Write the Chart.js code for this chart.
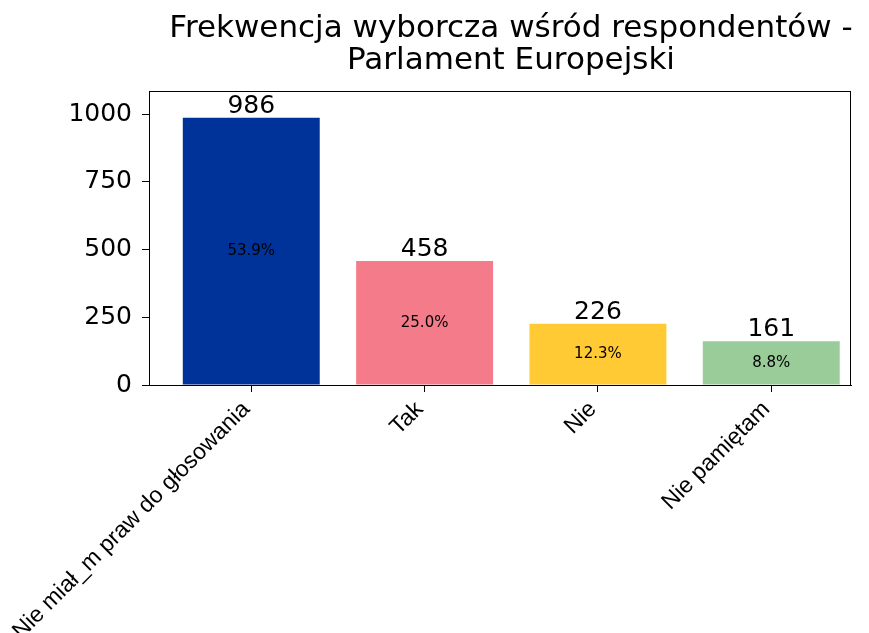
<!DOCTYPE html>
<html>
<head>
<meta charset="utf-8">
<script src="https://cdn.jsdelivr.net/npm/chart.js@4.4.0/dist/chart.umd.min.js"></script>
<style>
  html, body { margin: 0; padding: 0; background: #fff; }
  #wrap { width: 869px; height: 633px; }
</style>
</head>
<body>
<div id="wrap"><canvas id="chart" width="869" height="633"></canvas></div>
<script>
// Chart data
const categories = ['Nie miał_m praw do głosowania', 'Tak', 'Nie', 'Nie pamiętam'];
const counts = [986, 458, 226, 161];
const barColors = ['#003399', '#F47B8A', '#FFCA33', '#99CC99'];
const yTicks = [0, 250, 500, 750, 1000];
const titleLines = ['Frekwencja wyborcza wśród respondentów -', 'Parlament Europejski'];

const total = counts.reduce((a, b) => a + b, 0);

// Two-line title centred a bit right of the plot, like the original
const titleText = {
	id: 'titleText',
	afterDraw(chart) {
		const ctx = chart.ctx;
		ctx.save();
		ctx.fillStyle = '#000';
		ctx.textAlign = 'center';
		ctx.textBaseline = 'alphabetic';
		ctx.font = '31px "DejaVu Sans"';
		titleLines.forEach((line, i) => {
			ctx.fillText(line, 511, 37 + i * 32);
		});
		ctx.restore();
	}
};

// Labels above and inside bars, plus the box around the plot
const barLabels = {
	id: 'barLabels',
	afterDatasetsDraw(chart) {
		const ctx = chart.ctx;
		const meta = chart.getDatasetMeta(0);
		const yScale = chart.scales.y;
		ctx.save();
		ctx.fillStyle = '#000';
		ctx.textAlign = 'center';
		meta.data.forEach((bar, i) => {
			// count on top
			ctx.font = '25px "DejaVu Sans"';
			ctx.textBaseline = 'alphabetic';
			ctx.fillText(String(counts[i]), bar.x, bar.y - 5);
			// share in the middle
			ctx.font = '15px "DejaVu Sans"';
			ctx.textBaseline = 'middle';
			const pct = (counts[i] / total * 100).toFixed(1) + '%';
			ctx.fillText(pct, bar.x, yScale.getPixelForValue(counts[i] / 2));
		});
		const a = chart.chartArea;
		ctx.strokeStyle = '#000';
		ctx.lineWidth = 1;
		ctx.strokeRect(a.left + 0.5, a.top + 0.5, a.right - a.left - 1, a.bottom - a.top);
		ctx.restore();
	}
};

new Chart(document.getElementById('chart'), {
	type: 'bar',
	data: {
		datasets: [{
			data: counts.map((v, i) => ({ x: i, y: v })),
			backgroundColor: barColors,
			barPercentage: 0.79,
			categoryPercentage: 1.0,
		}],
	},
	options: {
		responsive: false,
		animation: false,
		layout: { padding: { left: 0, right: 18, top: 91, bottom: 0 } },
		plugins: {
			legend: { display: false },
			tooltip: { enabled: false },
			title: { display: false },
		},
		scales: {
			x: {
				type: 'linear',
				offset: false,
				min: -0.59,
				max: 3.46,
				afterBuildTicks: (scale) => {
					scale.ticks = categories.map((c, i) => ({ value: i }));
				},
				afterFit: (scale) => {
					scale.height = 248;
					scale.paddingLeft = 0;
					scale.paddingRight = 0;
				},
				ticks: {
					autoSkip: false,
					minRotation: 45,
					maxRotation: 45,
					labelOffset: -5,
					color: '#000',
					padding: 4,
					font: { family: 'Liberation Sans', size: 23 },
					callback: (v) => categories[v],
				},
				grid: { offset: false, drawOnChartArea: false, drawTicks: true, tickLength: 7, color: '#000' },
				border: { display: true, color: '#000' },
			},
			y: {
				min: 0,
				max: 1085,
				afterBuildTicks: (scale) => {
					scale.ticks = yTicks.map((v) => ({ value: v }));
				},
				afterFit: (scale) => { scale.width = 149; },
				ticks: {
					color: '#000',
					padding: 10,
					font: { family: 'DejaVu Sans', size: 25 },
					callback: (v) => String(v),
				},
				grid: { drawOnChartArea: false, drawTicks: true, tickLength: 7, color: '#000' },
				border: { display: true, color: '#000' },
			},
		},
	},
	plugins: [barLabels, titleText],
});
</script>
</body>
</html>
